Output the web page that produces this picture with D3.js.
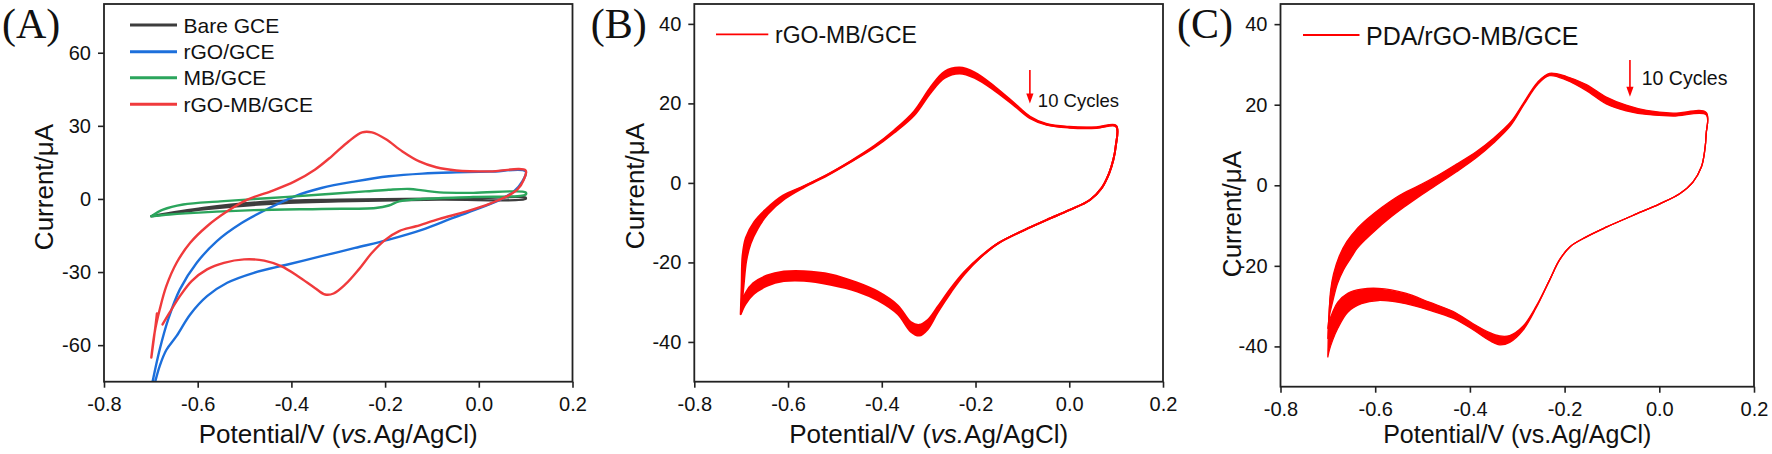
<!DOCTYPE html>
<html><head><meta charset="utf-8">
<script src="https://cdn.jsdelivr.net/npm/d3@7"></script>
<style>
body{margin:0;background:#fff}
svg{display:block}
text{font-family:"Liberation Sans",Arial,sans-serif;fill:#111}
</style>
</head><body>
<svg id="chart" width="1772" height="454"></svg>
<script>
// ---------------- DATA ----------------
const xTicks = [-0.8, -0.6, -0.4, -0.2, 0.0, 0.2];
const yTicksA = [-60, -30, 0, 30, 60];
const yTicksBC = [-40, -20, 0, 20, 40];
const legendA = ["Bare GCE", "rGO/GCE", "MB/GCE", "rGO-MB/GCE"];
const legendB = "rGO-MB/GCE";
const legendC = "PDA/rGO-MB/GCE";
const cyclesLabel = "10 Cycles";

// Panel A  [potential V, current µA]
const bareGCE = [[-0.699,-7.1],[-0.588,-3.7],[-0.444,-1.0],[-0.300,-0.3],[-0.156,0.0],[-0.012,0.2],[0.100,0.5],
  [0.100,0.0],[-0.084,-0.3],[-0.300,-1.0],[-0.444,-2.0],[-0.588,-4.3],[-0.699,-7.1]];
const rgoGCE = [[-0.696,-74.7],[-0.681,-61.7],[-0.663,-49.4],[-0.638,-37.1],[-0.602,-26.2],[-0.559,-17.3],[-0.508,-10.1],[-0.451,-4.1],[-0.393,1.1],[-0.336,4.5],[-0.264,7.2],[-0.192,9.3],[-0.120,10.4],[-0.048,10.9],[0.024,11.2],[0.100,11.3],
  [0.093,7.2],[0.075,3.1],[0.046,-0.3],[0.003,-3.7],[-0.055,-7.8],[-0.120,-12.6],[-0.192,-16.7],[-0.264,-20.1],[-0.336,-23.5],[-0.408,-26.9],[-0.480,-30.3],[-0.537,-34.4],[-0.580,-39.9],[-0.616,-47.4],[-0.645,-56.2],[-0.667,-62.0],[-0.681,-68.5],[-0.692,-76.0]];
const mbGCE = [[-0.699,-7.1],[-0.674,-4.4],[-0.631,-2.3],[-0.552,-1.0],[-0.444,0.4],[-0.336,1.8],[-0.242,3.1],[-0.192,3.8],[-0.148,4.1],[-0.120,3.5],[-0.084,2.7],[-0.012,2.5],[0.100,2.7],
  [0.100,1.8],[-0.012,0.8],[-0.120,0.0],[-0.170,-1.0],[-0.192,-2.7],[-0.220,-3.7],[-0.336,-4.1],[-0.480,-4.6],[-0.588,-5.5],[-0.660,-6.4],[-0.699,-7.1]];
const rgoMbGCE = [[-0.687,-47.0],[-0.690,-52.0],[-0.699,-65.1],[-0.692,-54.9],[-0.681,-45.3],[-0.667,-35.8],[-0.645,-26.2],[-0.616,-18.0],[-0.580,-11.2],[-0.537,-5.1],[-0.494,-0.3],[-0.444,3.1],[-0.393,7.2],[-0.350,12.0],[-0.314,17.5],[-0.278,23.6],[-0.249,27.3],[-0.228,27.3],[-0.199,24.6],[-0.163,19.5],[-0.127,15.4],[-0.091,13.0],[-0.048,11.7],[0.024,11.3],[0.100,11.7],
  [0.096,7.9],[0.082,3.8],[0.060,1.1],[0.024,-1.9],[-0.026,-5.1],[-0.084,-8.2],[-0.134,-11.2],[-0.170,-13.2],[-0.199,-16.7],[-0.228,-22.1],[-0.256,-28.9],[-0.285,-35.1],[-0.310,-38.8],[-0.328,-39.2],[-0.350,-36.5],[-0.386,-31.7],[-0.422,-27.6],[-0.458,-25.3],[-0.501,-24.8],[-0.544,-26.2],[-0.580,-28.9],[-0.613,-33.7],[-0.638,-39.9],[-0.660,-46.7],[-0.675,-51.5]];

// Panel B  (cycle 1, cycle 5, cycle 10)
const bCycle1 = [[-0.701,-33.0],[-0.699,-26.0],[-0.697,-18.3],[-0.690,-13.8],[-0.672,-9.8],[-0.647,-6.6],[-0.611,-3.2],[-0.566,-0.8],[-0.516,2.1],[-0.466,5.5],[-0.416,9.3],[-0.374,13.2],[-0.331,18.0],[-0.295,24.2],[-0.266,28.0],[-0.234,29.0],[-0.202,27.8],[-0.159,24.2],[-0.116,19.9],[-0.084,16.7],[-0.048,14.8],[0.000,14.1],[0.058,14.0],[0.100,14.4],
  [0.099,9.1],[0.094,5.8],[0.085,2.4],[0.069,-1.3],[0.044,-4.3],[0.001,-6.8],[-0.048,-9.3],[-0.095,-11.8],[-0.152,-15.2],[-0.188,-18.6],[-0.224,-23.0],[-0.252,-27.4],[-0.281,-32.6],[-0.302,-36.8],[-0.320,-38.4],[-0.338,-37.4],[-0.366,-33.0],[-0.409,-29.5],[-0.452,-27.3],[-0.509,-25.6],[-0.566,-24.6],[-0.609,-24.7],[-0.645,-25.9],[-0.674,-28.0],[-0.691,-30.5],[-0.701,-33.0]];
const bCycle5 = [[-0.700,-32.5],[-0.697,-26.0],[-0.694,-18.8],[-0.687,-14.4],[-0.669,-10.2],[-0.645,-6.8],[-0.609,-3.4],[-0.566,-0.9],[-0.516,2.0],[-0.466,5.4],[-0.416,9.1],[-0.374,12.9],[-0.331,17.5],[-0.295,23.4],[-0.266,27.1],[-0.234,28.2],[-0.202,27.0],[-0.159,23.6],[-0.116,19.6],[-0.084,16.5],[-0.048,14.7],[0.000,14.0],[0.058,13.9],[0.100,14.3],
  [0.099,9.1],[0.094,5.8],[0.085,2.4],[0.069,-1.3],[0.044,-4.3],[0.001,-6.8],[-0.048,-9.3],[-0.095,-11.8],[-0.152,-15.2],[-0.188,-18.5],[-0.224,-22.7],[-0.252,-26.9],[-0.281,-31.9],[-0.302,-35.6],[-0.320,-37.0],[-0.338,-36.2],[-0.366,-31.8],[-0.409,-28.3],[-0.452,-26.2],[-0.509,-24.3],[-0.566,-23.3],[-0.609,-23.4],[-0.645,-24.6],[-0.674,-26.6],[-0.691,-29.2],[-0.700,-32.5]];
const bCycle10 = [[-0.700,-32.0],[-0.695,-26.0],[-0.689,-19.5],[-0.680,-15.3],[-0.665,-11.5],[-0.643,-7.8],[-0.607,-4.0],[-0.566,-1.1],[-0.516,1.9],[-0.466,5.3],[-0.416,8.9],[-0.374,12.6],[-0.331,17.0],[-0.295,22.8],[-0.266,26.4],[-0.234,27.5],[-0.202,26.4],[-0.159,23.2],[-0.116,19.3],[-0.084,16.3],[-0.048,14.6],[0.000,13.9],[0.058,13.8],[0.100,14.2],
  [0.099,9.1],[0.094,5.8],[0.085,2.4],[0.069,-1.3],[0.044,-4.3],[0.001,-6.8],[-0.048,-9.3],[-0.095,-11.8],[-0.152,-15.2],[-0.188,-18.4],[-0.224,-22.4],[-0.252,-26.4],[-0.281,-31.2],[-0.302,-34.5],[-0.320,-35.7],[-0.338,-35.0],[-0.366,-30.8],[-0.409,-27.3],[-0.452,-25.1],[-0.509,-23.0],[-0.566,-22.2],[-0.609,-22.3],[-0.645,-23.3],[-0.674,-25.2],[-0.691,-27.8],[-0.700,-32.0]];

// Panel C  (cycle 1, cycle 5, cycle 10)
const cCycle1 = [[-0.700,-42.6],[-0.699,-37.0],[-0.697,-31.0],[-0.694,-26.0],[-0.688,-22.0],[-0.676,-17.6],[-0.660,-14.0],[-0.640,-11.0],[-0.615,-8.2],[-0.585,-5.4],[-0.550,-2.6],[-0.510,-0.2],[-0.470,2.3],[-0.429,5.2],[-0.386,8.4],[-0.350,11.7],[-0.314,15.7],[-0.286,20.6],[-0.257,25.6],[-0.232,27.8],[-0.196,27.0],[-0.154,25.0],[-0.112,21.9],[-0.070,19.9],[-0.027,18.6],[0.029,17.9],[0.099,18.1],
  [0.099,12.8],[0.096,8.7],[0.089,4.6],[0.071,0.8],[0.043,-2.1],[0.001,-4.6],[-0.056,-7.5],[-0.112,-10.4],[-0.154,-12.8],[-0.189,-15.3],[-0.211,-18.6],[-0.232,-23.6],[-0.260,-30.4],[-0.288,-36.0],[-0.316,-39.0],[-0.337,-39.6],[-0.358,-38.6],[-0.394,-35.8],[-0.436,-33.0],[-0.486,-31.0],[-0.536,-29.4],[-0.593,-28.6],[-0.629,-29.4],[-0.658,-31.5],[-0.679,-35.5],[-0.690,-38.5],[-0.697,-41.0],[-0.700,-42.6]];
const cCycle5 = [[-0.700,-38.0],[-0.698,-33.0],[-0.695,-28.0],[-0.689,-23.5],[-0.679,-19.8],[-0.664,-16.2],[-0.645,-13.2],[-0.620,-10.3],[-0.590,-7.4],[-0.555,-4.4],[-0.515,-1.6],[-0.479,0.8],[-0.429,4.4],[-0.386,7.7],[-0.350,11.1],[-0.314,15.3],[-0.286,20.3],[-0.257,25.3],[-0.232,27.5],[-0.196,26.5],[-0.154,24.2],[-0.112,21.0],[-0.070,19.2],[-0.027,18.2],[0.029,17.6],[0.099,17.8],
  [0.099,12.8],[0.096,8.7],[0.089,4.6],[0.071,0.8],[0.043,-2.1],[0.001,-4.6],[-0.056,-7.5],[-0.112,-10.4],[-0.154,-12.8],[-0.189,-15.3],[-0.211,-18.6],[-0.232,-23.6],[-0.260,-30.2],[-0.288,-35.4],[-0.316,-38.1],[-0.337,-38.4],[-0.358,-37.6],[-0.394,-35.0],[-0.436,-32.1],[-0.486,-30.0],[-0.536,-28.0],[-0.593,-27.0],[-0.629,-27.6],[-0.658,-29.0],[-0.679,-31.5],[-0.690,-34.0],[-0.697,-36.5],[-0.700,-38.0]];
const cCycle10 = [[-0.700,-35.5],[-0.696,-32.0],[-0.690,-29.0],[-0.680,-24.5],[-0.667,-21.0],[-0.650,-17.8],[-0.639,-15.8],[-0.620,-13.4],[-0.600,-11.2],[-0.570,-8.2],[-0.541,-5.6],[-0.510,-3.0],[-0.479,-0.6],[-0.429,3.3],[-0.386,6.9],[-0.350,10.5],[-0.314,14.8],[-0.286,20.0],[-0.257,25.0],[-0.232,27.2],[-0.196,26.1],[-0.154,23.5],[-0.112,20.2],[-0.070,18.5],[-0.027,17.6],[0.029,17.2],[0.099,17.5],
  [0.099,12.8],[0.096,8.7],[0.089,4.6],[0.071,0.8],[0.043,-2.1],[0.001,-4.6],[-0.056,-7.5],[-0.112,-10.4],[-0.154,-12.8],[-0.189,-15.3],[-0.211,-18.6],[-0.232,-23.6],[-0.260,-30.0],[-0.288,-35.0],[-0.316,-37.3],[-0.337,-37.4],[-0.358,-36.6],[-0.394,-34.3],[-0.436,-31.3],[-0.486,-29.0],[-0.536,-26.8],[-0.593,-25.6],[-0.629,-25.8],[-0.658,-26.8],[-0.679,-29.0],[-0.690,-31.5],[-0.697,-33.8],[-0.700,-35.5]];

// annotation anchors (data units)
const arrowB = {x:-0.084, y1:28.4, y2:20.0, tx:-0.067, ty:19.0};
const arrowC = {x:-0.062, y1:31.1, y2:22.0, tx:-0.037, ty:24.9};

// ---------------- DRAW ----------------
const svg = d3.select("#chart");
const FRAME = "#222";

function panel(cfg){
  const x = d3.scaleLinear().domain([-0.8,0.2]).range([cfg.x0,cfg.x1]);
  const y = d3.scaleLinear().domain(cfg.yDom).range([cfg.y1,cfg.y0]);
  const g = svg.append("g");
  const clipId = "clip"+cfg.id;
  svg.append("clipPath").attr("id",clipId).append("rect")
    .attr("x",cfg.x0).attr("y",cfg.y0).attr("width",cfg.x1-cfg.x0).attr("height",cfg.y1-cfg.y0);

  const xa = g.append("g").attr("transform",`translate(0,${cfg.y1})`)
    .call(d3.axisBottom(x).tickValues(xTicks).tickSize(6).tickSizeOuter(0).tickPadding(9).tickFormat(d=>d.toFixed(1)));
  const ya = g.append("g").attr("transform",`translate(${cfg.x0},0)`)
    .call(d3.axisLeft(y).tickValues(cfg.yTicks).tickSize(6).tickSizeOuter(0).tickPadding(7).tickFormat(d=>String(d)));
  [xa,ya].forEach(a=>{
    a.select(".domain").remove();
    a.selectAll(".tick line").attr("stroke",FRAME).attr("stroke-width",1.6);
    a.selectAll(".tick text").style("font-size","20px").attr("fill","#111");
  });

  const line = d3.line().x(d=>x(d[0])).y(d=>y(d[1])).curve(d3.curveCatmullRom.alpha(0.5));
  const cg = g.append("g").attr("clip-path",`url(#${clipId})`);
  if (cfg.band) {
    cg.append("path").attr("d", line(cfg.band[0]) + line(cfg.band[1]))
      .attr("fill","#ff0000").attr("fill-rule","evenodd").attr("stroke","none");
  }
  cfg.series.forEach(s=>{
    cg.append("path").datum(s.data).attr("d",line)
      .attr("fill","none").attr("stroke",s.color).attr("stroke-width",s.w)
      .attr("stroke-linejoin","round").attr("stroke-linecap","round");
  });

  g.append("rect").attr("x",cfg.x0).attr("y",cfg.y0).attr("width",cfg.x1-cfg.x0).attr("height",cfg.y1-cfg.y0)
    .attr("fill","none").attr("stroke",FRAME).attr("stroke-width",1.8);

  // axis titles
  g.append("text").attr("transform",`translate(${cfg.ylx},${cfg.yly}) rotate(-90)`)
    .attr("text-anchor","middle").style("font-size","26px").text("Current/μA");
  const xt = g.append("text").attr("x",(cfg.x0+cfg.x1)/2).attr("y",443)
    .attr("text-anchor","middle").style("font-size",cfg.xlSize+"px");
  xt.append("tspan").text("Potential/V (");
  xt.append("tspan").style("font-style",cfg.italic?"italic":"normal").text("vs.");
  xt.append("tspan").text("Ag/AgCl)");

  // panel letter
  g.append("text").attr("x",cfg.lx).attr("y",37.5).style("font-family",'"Liberation Serif","Times New Roman",serif')
    .style("font-size","42px").attr("fill","#111").text(cfg.letter);
  return {x,y,g};
}

// Panel A
const colA = ["#3d3d3d","#1c6fdb","#2ba55c","#f03a3c"];
const pA = panel({id:"A",x0:104,x1:572.5,y0:4,y1:381.7,yDom:[-75,80],yTicks:yTicksA,
  ylx:53,yly:187,xlSize:26,italic:true,lx:2,letter:"(A)",
  series:[
    {data:bareGCE,color:colA[0],w:2.4},
    {data:rgoGCE,color:colA[1],w:2.4},
    {data:mbGCE,color:colA[2],w:2.4},
    {data:rgoMbGCE,color:colA[3],w:2.4}
  ]});
const rowsA = [25,51.7,77.7,104.3];
legendA.forEach((t,i)=>{
  pA.g.append("line").attr("x1",130).attr("x2",177).attr("y1",rowsA[i]).attr("y2",rowsA[i])
    .attr("stroke",colA[i]).attr("stroke-width",3);
  pA.g.append("text").attr("x",183.5).attr("y",rowsA[i]+7.6).style("font-size","21px").text(t);
});

// Panel B
const pB = panel({id:"B",x0:694.3,x1:1163,y0:4,y1:381.7,yDom:[-50,45],yTicks:yTicksBC,
  ylx:644,yly:186,xlSize:26,italic:true,lx:590.7,letter:"(B)",
  band:[bCycle1,bCycle10],
  series:[
    {data:bCycle1,color:"#ff0000",w:2},
    {data:bCycle5,color:"#ff0000",w:2},
    {data:bCycle10,color:"#ff0000",w:2}
  ]});
pB.g.append("line").attr("x1",716).attr("x2",768.3).attr("y1",34.3).attr("y2",34.3).attr("stroke","#ff0000").attr("stroke-width",1.8);
pB.g.append("text").attr("x",775).attr("y",42.5).style("font-size","23px").text(legendB);

// Panel C
const pC = panel({id:"C",x0:1280.5,x1:1754,y0:4,y1:386.7,yDom:[-50,45],yTicks:yTicksBC,
  ylx:1241,yly:214,xlSize:25,italic:false,lx:1177,letter:"(C)",
  band:[cCycle1,cCycle10],
  series:[
    {data:cCycle1,color:"#ff0000",w:1.3},
    {data:cCycle5,color:"#ff0000",w:1.3},
    {data:cCycle10,color:"#ff0000",w:1.3}
  ]});
pC.g.append("line").attr("x1",1303).attr("x2",1359.5).attr("y1",35).attr("y2",35).attr("stroke","#ff0000").attr("stroke-width",1.8);
pC.g.append("text").attr("x",1366).attr("y",44.5).style("font-size","25px").text(legendC);

// arrows + "10 Cycles"
function arrow(p,a,size){
  const X = p.x(a.x), Y1 = p.y(a.y1), Y2 = p.y(a.y2);
  p.g.append("line").attr("x1",X).attr("x2",X).attr("y1",Y1).attr("y2",Y2-8).attr("stroke","#ff0000").attr("stroke-width",1.6);
  p.g.append("path").attr("d",`M${X-3.6},${Y2-10}L${X+3.6},${Y2-10}L${X},${Y2}Z`).attr("fill","#ff0000");
  p.g.append("text").attr("x",p.x(a.tx)).attr("y",p.y(a.ty)).style("font-size",size+"px").text(cyclesLabel);
}
arrow(pB,arrowB,18.5);
arrow(pC,arrowC,19.5);
</script>
</body></html>
